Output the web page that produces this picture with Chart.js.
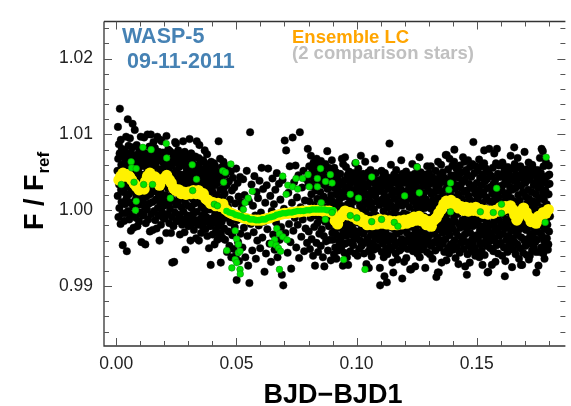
<!DOCTYPE html>
<html lang="en">
<head>
  <meta charset="UTF-8">
  <title>WASP-5 - Ensemble LC</title>
  <script src="https://cdn.jsdelivr.net/npm/chart.js"></script>
  <style>
    html, body { margin: 0; padding: 0; background: #fff; }
    #wrap { width: 571px; height: 406px; }
  </style>
</head>
<body>
<div id="wrap"><canvas id="lc" width="571" height="406"></canvas></div>
<script>
// axes
const xRange = [-0.0051, 0.1869];
const yRange = [0.9821, 1.0249];
const xTicks = [0.00, 0.05, 0.10, 0.15];
const yTicks = [0.99, 1.00, 1.01, 1.02];
const xMinorTicks = [0.01, 0.02, 0.03, 0.04, 0.06, 0.07, 0.08, 0.09, 0.11, 0.12, 0.13, 0.14, 0.16, 0.17, 0.18];
const yMinorTicks = [0.984, 0.986, 0.988, 0.992, 0.994, 0.996, 0.998, 1.002, 1.004, 1.006, 1.008, 1.012, 1.014, 1.016, 1.018, 1.022, 1.024];

// target star, black points [BJD-BJD1, F/Fref]
const blackA = [
[0.0005,1.0052],[0.0006,1.0019],[0.0007,1.0110],[0.0008,1.0068],[0.0009,0.9991],[0.0011,1.0087],[0.0012,1.0034],[0.0013,1.0003],[0.0014,1.0075],[0.0015,1.0134],
[0.0016,1.0046],[0.0018,0.9982],[0.0019,1.0093],[0.0020,1.0027],[0.0021,1.0060],[0.0022,1.0011],[0.0023,1.0081],[0.0025,1.0040],[0.0026,0.9996],[0.0027,0.9954],
[0.0028,1.0071],[0.0029,1.0024],[0.0030,1.0078],[0.0032,1.0056],[0.0033,0.9986],[0.0034,1.0038],[0.0035,1.0079],[0.0036,1.0008],[0.0037,1.0064],[0.0039,1.0030],
[0.0040,0.9996],[0.0041,1.0097],[0.0042,1.0049],[0.0043,1.0016],[0.0044,0.9946],[0.0046,1.0072],[0.0047,1.0033],[0.0048,1.0120],[0.0049,0.9999],[0.0050,1.0058],
[0.0051,1.0085],[0.0053,1.0021],[0.0054,0.9988],[0.0055,1.0066],[0.0056,1.0043],[0.0057,1.0095],[0.0058,1.0010],[0.0060,1.0053],[0.0061,0.9973],[0.0062,1.0076],
[0.0063,1.0028],[0.0064,1.0062],[0.0065,0.9994],[0.0067,1.0037],[0.0068,1.0114],[0.0069,1.0083],[0.0070,1.0005],[0.0071,1.0047],[0.0072,0.9977],[0.0074,1.0069],
[0.0075,1.0025],[0.0076,1.0071],[0.0077,1.0106],[0.0078,1.0013],[0.0079,1.0057],
[0.0081,1.0044],[0.0082,0.9990],[0.0083,1.0072],[0.0084,1.0019],[0.0085,1.0086],[0.0086,1.0051],[0.0088,0.9979],[0.0089,1.0063],[0.0090,1.0031],[0.0091,1.0074],
[0.0092,1.0007],[0.0093,1.0055],[0.0095,0.9985],[0.0096,1.0078],[0.0097,1.0039],[0.0098,1.0015],[0.0099,1.0068],[0.0100,0.9997],[0.0102,1.0097],[0.0103,1.0047],
[0.0104,1.0023],[0.0105,0.9958],[0.0106,1.0060],[0.0107,1.0035],[0.0109,1.0081],[0.0110,0.9993],[0.0111,1.0012],[0.0112,1.0070],[0.0113,1.0042],[0.0114,0.9994],
[0.0116,1.0096],[0.0117,1.0029],[0.0118,1.0058],[0.0119,1.0004],[0.0120,1.0075],[0.0121,1.0040],[0.0123,0.9983],[0.0124,1.0066],[0.0125,1.0018],[0.0126,1.0067],
[0.0127,1.0049],[0.0128,1.0001],[0.0130,1.0100],[0.0131,1.0026],[0.0132,1.0061],[0.0133,0.9988],[0.0134,1.0073],[0.0135,1.0036],[0.0137,1.0009],[0.0138,1.0084],
[0.0139,1.0053],[0.0140,0.9972],[0.0141,1.0067],[0.0142,1.0021],[0.0144,1.0100],[0.0145,1.0045],[0.0146,0.9995],[0.0147,1.0064],[0.0148,1.0032],[0.0149,1.0079],
[0.0151,1.0011],[0.0152,0.9974],[0.0153,1.0056],[0.0154,1.0025],[0.0155,1.0090],[0.0156,1.0048],[0.0158,0.9999],[0.0159,1.0070],
[0.0160,1.0038],[0.0161,1.0082],[0.0162,0.9987],[0.0163,1.0059],[0.0165,1.0014],[0.0166,1.0073],[0.0167,1.0030],[0.0168,0.9976],[0.0169,1.0068],[0.0170,1.0046],
[0.0171,1.0097],[0.0173,1.0003],[0.0174,1.0065],[0.0175,1.0022],[0.0176,0.9993],[0.0177,1.0077],[0.0179,1.0041],[0.0180,0.9960],[0.0181,1.0054],[0.0182,1.0010],
[0.0183,1.0093],[0.0184,1.0027],[0.0186,0.9981],[0.0187,1.0068],[0.0188,1.0035],[0.0189,1.0091],[0.0190,0.9998],[0.0191,1.0050],[0.0193,1.0017],[0.0194,1.0076],
[0.0195,0.9990],[0.0196,1.0043],[0.0197,1.0062],[0.0198,1.0006],[0.0200,1.0063],[0.0201,1.0033],[0.0202,0.9989],[0.0203,1.0057],[0.0204,1.0020],[0.0205,1.0071],
[0.0207,1.0040],[0.0208,0.9970],[0.0209,1.0098],[0.0210,1.0012],[0.0211,1.0048],[0.0212,1.0066],[0.0214,0.9995],[0.0215,1.0029],[0.0216,1.0080],[0.0217,1.0008],
[0.0218,1.0052],
[0.0219,1.0061],[0.0221,0.9983],[0.0222,1.0036],[0.0223,1.0078],[0.0224,1.0002],[0.0225,1.0049],[0.0226,1.0019],[0.0228,0.9970],[0.0229,1.0064],[0.0230,1.0031],
[0.0231,1.0058],[0.0232,0.9991],[0.0233,0.9931],[0.0235,1.0069],[0.0236,1.0013],[0.0237,1.0045],[0.0238,0.9979],[0.0239,1.0075],[0.0241,0.9932],[0.0242,1.0026],
[0.0243,1.0063],[0.0244,0.9997],[0.0245,1.0090],[0.0246,1.0039],[0.0248,1.0007],[0.0249,1.0088],[0.0250,1.0052],[0.0251,0.9986],[0.0252,1.0023],[0.0253,1.0070],
[0.0255,0.9986],[0.0256,1.0041],[0.0257,1.0011],[0.0258,1.0079],[0.0259,1.0034],[0.0260,0.9994],[0.0262,1.0057],[0.0263,1.0016],[0.0264,1.0065],[0.0265,0.9968],
[0.0266,1.0047],[0.0267,1.0028],[0.0269,1.0066],[0.0270,0.9989],[0.0271,1.0074],[0.0272,1.0004],[0.0273,1.0037],[0.0274,0.9981],[0.0276,1.0060],[0.0277,1.0020],
[0.0278,1.0091],[0.0279,1.0043],
[0.0280,0.9998],[0.0281,1.0064],[0.0283,1.0029],[0.0284,0.9971],[0.0285,1.0077],[0.0286,1.0012],[0.0287,1.0048],[0.0288,0.9986],[0.0290,1.0069],[0.0291,1.0035],
[0.0292,0.9983],[0.0293,1.0055],[0.0294,1.0018],[0.0295,1.0060],[0.0297,0.9993],[0.0298,1.0041],[0.0299,1.0006],[0.0300,1.0072],[0.0301,0.9979],[0.0302,1.0051],
[0.0304,1.0024],[0.0305,1.0094],[0.0306,0.9989],[0.0307,1.0061],[0.0308,1.0032],[0.0309,0.9960],[0.0311,1.0045],[0.0312,1.0075],[0.0313,1.0003],[0.0314,1.0038],
[0.0315,0.9982],[0.0316,1.0067],[0.0318,1.0015],[0.0319,1.0053],[0.0320,0.9995],[0.0321,1.0059],[0.0322,1.0027],[0.0323,0.9974],[0.0325,1.0060],[0.0326,1.0009],
[0.0327,1.0043],[0.0328,0.9987],[0.0329,1.0071],[0.0330,1.0021],[0.0332,0.9963],[0.0333,1.0056],[0.0334,1.0034],[0.0335,1.0091],[0.0336,0.9998],[0.0337,1.0047],
[0.0339,1.0013],
[0.0340,1.0058],[0.0341,0.9981],[0.0342,1.0032],[0.0343,1.0069],[0.0344,0.9960],[0.0346,1.0086],[0.0347,1.0010],[0.0348,1.0044],[0.0349,0.9988],[0.0350,1.0063],
[0.0351,1.0022],[0.0353,0.9970],[0.0354,1.0051],[0.0355,1.0004],[0.0356,1.0053],[0.0357,1.0027],[0.0358,0.9993],[0.0360,1.0040],[0.0361,0.9978],[0.0362,1.0066],
[0.0363,1.0015],[0.0364,1.0054],[0.0365,0.9984],[0.0367,1.0035],[0.0368,1.0079],[0.0369,0.9999],[0.0370,1.0047],[0.0371,0.9975],[0.0372,1.0020],[0.0374,1.0061],
[0.0375,0.9991],[0.0376,1.0038],[0.0377,1.0007],[0.0378,1.0074],[0.0379,0.9966],[0.0381,1.0029],[0.0382,1.0052],[0.0383,0.9986],[0.0384,1.0017],[0.0385,1.0048],
[0.0386,0.9950],[0.0388,1.0043],[0.0389,1.0001],[0.0390,1.0057],[0.0391,0.9979],[0.0392,1.0033],[0.0393,0.9928],[0.0395,1.0064],[0.0396,1.0012],[0.0397,0.9989],
[0.0398,1.0046],
[0.0400,1.0025],[0.0401,0.9968],[0.0402,1.0054],[0.0403,1.0003],[0.0404,1.0040],[0.0405,0.9983],[0.0407,1.0062],[0.0408,1.0015],[0.0409,0.9955],[0.0410,1.0033],
[0.0411,0.9994],[0.0412,1.0058],[0.0414,1.0008],[0.0415,0.9974],[0.0416,1.0046],[0.0417,1.0020],[0.0418,0.9987],[0.0419,1.0045],[0.0421,0.9961],[0.0422,1.0036],
[0.0423,1.0001],[0.0424,1.0050],[0.0425,0.9979],[0.0426,1.0091],[0.0428,1.0012],[0.0429,0.9968],[0.0430,1.0043],[0.0431,0.9992],[0.0432,1.0068],[0.0433,1.0027],
[0.0435,0.9931],[0.0436,0.9970],[0.0437,1.0048],[0.0438,1.0006],[0.0439,0.9985],[0.0440,1.0057],[0.0442,1.0018],[0.0443,0.9963],[0.0444,1.0038],[0.0445,0.9997],
[0.0446,1.0064],[0.0447,1.0029],[0.0449,0.9976],
[0.0121,0.9955],[0.0288,0.9948]
];
const blackB = [
[0.0451,1.0022],[0.0453,0.9961],[0.0455,1.0047],[0.0457,0.9990],[0.0459,1.0033],[0.0461,0.9945],[0.0463,1.0058],[0.0465,1.0005],[0.0467,0.9972],[0.0469,1.0038],
[0.0471,0.9953],[0.0473,1.0014],[0.0475,0.9984],[0.0477,1.0051],[0.0479,0.9938],[0.0481,1.0026],[0.0483,0.9967],[0.0485,1.0043],[0.0487,0.9996],[0.0489,0.9949],
[0.0491,1.0030],[0.0493,0.9978],[0.0495,1.0009],[0.0497,0.9940],[0.0499,1.0055],[0.0501,0.9908],[0.0503,0.9987],[0.0505,1.0036],[0.0507,0.9958],[0.0509,1.0018],
[0.0511,0.9933],[0.0513,0.9993],[0.0515,1.0044],[0.0517,0.9969],[0.0519,1.0011],
[0.0522,1.0003],[0.0525,0.9951],[0.0528,1.0041],[0.0531,0.9977],[0.0534,1.0020],[0.0537,0.9938],[0.0540,0.9989],[0.0543,1.0052],[0.0546,0.9966],[0.0549,0.9927],
[0.0552,1.0012],[0.0554,0.9904],[0.0557,1.0103],[0.0560,0.9982],[0.0563,1.0034],[0.0566,0.9947],[0.0569,1.0006],[0.0572,0.9971],[0.0575,1.0045],[0.0578,0.9993],
[0.0581,0.9936],[0.0584,1.0024],[0.0587,0.9960],[0.0590,1.0016],[0.0593,0.9980],[0.0596,1.0039],[0.0599,0.9950],[0.0602,0.9997],[0.0605,1.0056],[0.0608,0.9964],
[0.0611,1.0028],[0.0614,0.9985],[0.0617,0.9919],[0.0620,1.0010],[0.0623,0.9943],[0.0626,1.0033],[0.0629,0.9975],[0.0632,1.0055],[0.0635,0.9991],[0.0638,0.9956],
[0.0641,1.0019],[0.0644,0.9932],[0.0647,0.9999],[0.0650,1.0042],[0.0653,0.9968],[0.0656,1.0008],[0.0659,0.9948],[0.0662,1.0027],[0.0665,0.9984],[0.0668,1.0049],
[0.0671,0.9938],[0.0674,0.9995],[0.0677,1.0035],[0.0680,0.9961],[0.0683,1.0014],[0.0686,0.9978],[0.0689,0.9915],[0.0692,1.0040],[0.0695,0.9901],[0.0698,1.0002],
[0.0701,1.0092],[0.0704,0.9970],[0.0707,1.0079],[0.0710,0.9996],[0.0713,0.9944],[0.0716,1.0023],[0.0719,0.9982],[0.0722,1.0058],[0.0725,0.9958],[0.0728,0.9923],
[0.0731,1.0010],[0.0734,1.0096],[0.0737,0.9973],[0.0740,1.0037],[0.0743,0.9990],[0.0746,1.0059],[0.0749,0.9951],[0.0752,1.0017],[0.0755,0.9981],[0.0758,1.0046],
[0.0761,0.9937],[0.0764,1.0103],[0.0767,1.0004],[0.0770,0.9965],[0.0773,1.0030],[0.0776,0.9988],[0.0779,1.0052],[0.0782,0.9946],[0.0785,1.0013],[0.0788,0.9976],
[0.0791,1.0041],[0.0794,0.9957],[0.0797,1.0081],
[0.0800,1.0035],[0.0801,0.9972],[0.0803,1.0058],[0.0804,1.0012],[0.0806,0.9949],[0.0807,1.0044],[0.0809,0.9990],[0.0810,1.0072],[0.0812,1.0021],[0.0813,0.9962],
[0.0815,1.0050],[0.0816,0.9998],[0.0818,1.0031],[0.0819,0.9940],[0.0821,1.0063],[0.0822,1.0007],[0.0824,0.9978],[0.0825,1.0040],[0.0827,0.9927],[0.0828,1.0054],
[0.0830,0.9993],[0.0831,1.0026],[0.0833,0.9957],[0.0834,1.0068],[0.0836,1.0015],[0.0837,0.9983],[0.0839,1.0047],[0.0840,0.9945],[0.0842,1.0002],[0.0843,1.0059],
[0.0845,0.9969],[0.0846,1.0036],[0.0848,0.9988],[0.0849,1.0024],[0.0851,0.9953],[0.0852,1.0065],[0.0854,1.0010],[0.0855,0.9975],[0.0857,1.0043],[0.0858,0.9999],
[0.0860,0.9938],[0.0861,1.0052],[0.0863,1.0018],[0.0864,0.9966],[0.0866,0.9926],[0.0867,1.0033],[0.0869,0.9985],[0.0870,1.0061],[0.0872,1.0004],[0.0873,0.9959],
[0.0875,1.0045],[0.0876,0.9992],[0.0878,1.0078],[0.0879,1.0028],[0.0881,0.9947],[0.0882,1.0013],[0.0884,1.0056],[0.0885,0.9979],[0.0887,1.0038],[0.0888,0.9961],
[0.0890,1.0006],[0.0891,1.0049],[0.0893,0.9934],[0.0894,1.0020],[0.0896,0.9987],[0.0897,1.0066],[0.0899,0.9970]
];
const blackC = [
[0.0900,1.0012],[0.0901,0.9961],[0.0902,1.0045],[0.0903,0.9988],[0.0904,1.0030],[0.0906,0.9942],[0.0907,1.0056],[0.0908,1.0003],[0.0909,0.9973],[0.0910,1.0038],
[0.0911,0.9951],[0.0913,1.0021],[0.0914,0.9994],[0.0915,1.0050],[0.0916,0.9936],[0.0917,1.0009],[0.0918,0.9967],[0.0920,1.0042],[0.0921,0.9982],[0.0922,1.0026],
[0.0923,0.9947],[0.0924,1.0038],[0.0925,0.9999],[0.0927,0.9959],[0.0928,1.0033],[0.0929,0.9977],[0.0930,1.0015],[0.0931,0.9958],[0.0932,1.0048],[0.0934,0.9990],
[0.0935,0.9964],[0.0936,1.0024],[0.0937,0.9952],[0.0938,1.0006],[0.0939,1.0068],[0.0941,0.9985],[0.0942,1.0036],[0.0943,0.9927],[0.0944,1.0061],[0.0945,0.9970],
[0.0946,1.0018],[0.0948,0.9996],[0.0949,0.9944],[0.0950,1.0040],[0.0951,0.9979],[0.0952,1.0028],[0.0953,0.9956],[0.0955,1.0001],[0.0956,1.0057],[0.0957,0.9966],
[0.0958,1.0023],[0.0959,0.9987],[0.0960,0.9938],[0.0962,1.0046],[0.0963,1.0008],[0.0964,0.9974],[0.0965,0.9928],[0.0966,1.0031],[0.0967,0.9992],[0.0969,1.0051],
[0.0970,0.9958],[0.0971,1.0016],[0.0972,0.9981],[0.0973,1.0035],[0.0974,0.9946],[0.0976,1.0004],[0.0977,1.0039],[0.0978,0.9968],[0.0979,1.0027],[0.0980,0.9993],
[0.0981,0.9957],[0.0983,1.0043],[0.0984,0.9976],[0.0985,1.0011],[0.0986,0.9954],[0.0987,1.0049],[0.0988,0.9986],[0.0990,1.0022],[0.0991,0.9962],[0.0992,1.0037],
[0.0993,0.9998],[0.0994,0.9943],[0.0995,1.0062],[0.0997,0.9972],[0.0998,1.0019],[0.0999,0.9989],
[0.1000,1.0029],[0.1001,0.9965],[0.1002,1.0047],[0.1003,0.9984],[0.1004,0.9940],[0.1006,1.0013],[0.1007,1.0055],[0.1008,0.9972],[0.1009,1.0033],[0.1010,0.9996],
[0.1011,0.9949],[0.1013,1.0041],[0.1014,1.0006],[0.1015,0.9960],[0.1016,1.0024],[0.1017,0.9987],[0.1018,1.0032],[0.1020,0.9953],[0.1021,1.0018],[0.1022,0.9978],
[0.1023,1.0039],[0.1024,0.9955],[0.1025,1.0002],[0.1027,1.0048],[0.1028,0.9969],[0.1029,1.0026],[0.1030,0.9991],[0.1031,0.9943],[0.1032,1.0035],[0.1034,0.9981],
[0.1035,1.0011],[0.1036,1.0064],[0.1037,0.9958],[0.1038,1.0021],[0.1039,0.9998],[0.1041,0.9929],[0.1042,1.0044],[0.1043,0.9975],[0.1044,1.0008],[0.1045,0.9962],
[0.1046,1.0031],[0.1048,0.9989],[0.1049,1.0050],[0.1050,0.9946],[0.1051,0.9924],[0.1052,1.0015],[0.1053,0.9979],[0.1055,1.0037],[0.1056,0.9953],[0.1057,1.0004],
[0.1058,1.0053],[0.1059,0.9967],[0.1060,1.0023],[0.1062,0.9985],[0.1063,0.9939],[0.1064,1.0042],[0.1065,0.9994],[0.1066,1.0010],[0.1067,0.9957],[0.1069,1.0046],
[0.1070,0.9973],[0.1071,1.0027],[0.1072,0.9948],[0.1073,1.0001],[0.1074,1.0036],[0.1076,1.0068],[0.1077,0.9982],[0.1078,1.0019],[0.1079,0.9963],[0.1080,1.0049],
[0.1081,0.9993],[0.1083,0.9952],[0.1084,1.0030],[0.1085,0.9970],[0.1086,1.0012],[0.1087,0.9950],[0.1088,1.0035],[0.1090,0.9986],[0.1091,1.0025],[0.1092,0.9961],
[0.1093,1.0040],[0.1094,0.9978],[0.1095,1.0007],[0.1097,0.9924],[0.1098,0.9901],[0.1099,1.0034],
[0.1100,0.9968],[0.1101,1.0037],[0.1102,0.9990],[0.1104,1.0052],[0.1105,0.9945],[0.1106,1.0014],[0.1107,0.9976],[0.1108,1.0031],[0.1109,0.9956],[0.1111,1.0045],
[0.1112,0.9999],[0.1113,0.9938],[0.1114,1.0022],[0.1115,0.9983],[0.1116,0.9913],[0.1118,1.0049],[0.1119,0.9964],[0.1120,1.0008],[0.1121,0.9971],[0.1122,1.0039],
[0.1123,0.9950],[0.1125,1.0017],[0.1126,0.9992],[0.1127,1.0034],[0.1128,0.9942],[0.1129,1.0003],[0.1130,0.9980],[0.1132,1.0028],[0.1133,0.9959],[0.1134,1.0043],
[0.1135,0.9987],[0.1136,0.9951],[0.1137,1.0088],[0.1139,1.0011],[0.1140,0.9966],[0.1141,1.0034],[0.1142,0.9995],[0.1143,1.0060],[0.1144,0.9948],[0.1146,1.0020],
[0.1147,0.9977],[0.1148,1.0005],[0.1149,0.9931],[0.1150,1.0041],[0.1151,0.9985],[0.1153,0.9918],[0.1154,1.0026],[0.1155,0.9961],[0.1156,1.0047],[0.1157,0.9997],
[0.1158,0.9953],[0.1160,1.0015],[0.1161,0.9974],[0.1162,1.0036],[0.1163,0.9943],[0.1164,1.0002],[0.1165,1.0053],[0.1167,0.9969],[0.1168,1.0024],[0.1169,0.9988],
[0.1170,0.9935],[0.1171,1.0044],[0.1172,0.9979],[0.1174,1.0010],[0.1175,0.9957],[0.1176,1.0032],[0.1177,0.9993],[0.1178,1.0035],[0.1179,0.9947],[0.1181,1.0019],
[0.1182,0.9972],[0.1183,1.0040],[0.1184,0.9984],[0.1185,0.9949],[0.1186,1.0027],[0.1188,0.9962],[0.1189,1.0006],[0.1190,0.9910],[0.1191,1.0048],[0.1192,0.9981],
[0.1193,1.0013],[0.1195,0.9952],[0.1196,1.0036],[0.1197,0.9996],[0.1198,0.9932],[0.1199,1.0021],
[0.1200,0.9975],[0.1202,1.0043],[0.1203,0.9958],[0.1204,1.0009],[0.1205,0.9989],[0.1206,1.0051],[0.1207,0.9937],[0.1209,1.0025],[0.1210,0.9970],[0.1211,1.0038],
[0.1212,0.9994],[0.1213,0.9949],[0.1214,1.0016],[0.1216,1.0036],[0.1217,0.9963],[0.1218,1.0030],[0.1219,0.9982],[0.1220,1.0004],[0.1221,0.9959],[0.1223,0.9922],
[0.1224,1.0046],[0.1225,0.9978],[0.1226,1.0021],[0.1227,0.9922],[0.1228,0.9955],[0.1230,1.0035],[0.1231,0.9991],[0.1232,1.0061],[0.1233,0.9967],[0.1234,1.0012],
[0.1235,0.9946],[0.1237,1.0040],[0.1238,0.9985],[0.1239,1.0027],[0.1240,0.9960],[0.1241,0.9998],[0.1242,1.0048],[0.1244,0.9926],[0.1245,1.0019],[0.1246,0.9973],
[0.1247,1.0033],[0.1248,0.9952],[0.1249,1.0006],[0.1251,1.0057],[0.1252,0.9980],[0.1253,0.9943],[0.1254,1.0024],[0.1255,0.9965],[0.1256,1.0045],[0.1258,0.9996],
[0.1259,1.0013],[0.1260,0.9956],[0.1261,1.0039],[0.1262,0.9987],[0.1263,0.9938],[0.1265,1.0029],[0.1266,0.9971],[0.1267,1.0050],[0.1268,1.0001],[0.1269,0.9948],
[0.1270,1.0017],[0.1272,0.9983],[0.1273,1.0042],[0.1274,0.9962],[0.1275,1.0008],[0.1276,0.9950],[0.1277,1.0035],[0.1279,0.9976],[0.1280,1.0022],[0.1281,0.9992],
[0.1282,1.0036],[0.1283,0.9954],[0.1284,1.0003],[0.1286,0.9924],[0.1287,1.0047],[0.1288,0.9968],[0.1289,1.0014],[0.1290,0.9986],[0.1291,1.0031],[0.1293,0.9945],
[0.1294,1.0058],[0.1295,0.9979],[0.1296,1.0010],[0.1297,0.9959],[0.1298,1.0041],
[0.1300,1.0026],[0.1301,0.9966],[0.1302,1.0049],[0.1303,0.9990],[0.1304,1.0008],[0.1305,0.9942],[0.1307,1.0035],[0.1308,0.9977],[0.1309,1.0058],[0.1310,1.0002],
[0.1311,0.9953],[0.1312,1.0021],[0.1314,0.9984],[0.1315,1.0044],[0.1316,0.9936],[0.1317,1.0013],[0.1318,0.9969],[0.1319,1.0037],[0.1321,0.9995],[0.1322,1.0041],
[0.1323,0.9958],[0.1324,1.0024],[0.1325,0.9981],[0.1326,1.0005],[0.1328,0.9947],[0.1329,1.0052],[0.1330,0.9973],[0.1331,1.0030],[0.1332,0.9992],[0.1333,0.9957],
[0.1335,1.0041],[0.1336,0.9964],[0.1337,1.0016],[0.1338,0.9918],[0.1339,1.0064],[0.1340,0.9986],[0.1342,0.9918],[0.1343,1.0033],[0.1344,0.9975],[0.1345,1.0011],
[0.1346,0.9951],[0.1347,1.0047],[0.1349,0.9997],[0.1350,1.0025],[0.1351,0.9960],[0.1352,1.0060],[0.1353,0.9982],[0.1354,0.9931],[0.1356,1.0038],[0.1357,1.0003],
[0.1358,0.9970],[0.1359,1.0050],[0.1360,0.9956],[0.1361,1.0019],[0.1363,0.9988],[0.1364,1.0043],[0.1365,0.9945],[0.1366,1.0010],[0.1367,0.9978],[0.1368,1.0037],
[0.1370,0.9962],[0.1371,1.0073],[0.1372,1.0028],[0.1373,0.9993],[0.1374,0.9934],[0.1375,1.0073],[0.1377,1.0040],[0.1378,0.9972],[0.1379,1.0015],[0.1380,0.9950],
[0.1381,1.0054],[0.1382,0.9985],[0.1384,1.0032],[0.1385,0.9943],[0.1386,1.0007],[0.1387,1.0068],[0.1388,0.9967],[0.1389,1.0022],[0.1391,0.9998],[0.1392,0.9955],
[0.1393,1.0046],[0.1394,0.9980],[0.1395,1.0035],[0.1396,0.9955],[0.1398,1.0012],[0.1399,1.0059],
[0.1400,0.9976],[0.1401,1.0039],[0.1402,0.9948],[0.1403,1.0017],[0.1405,0.9991],[0.1406,1.0064],[0.1407,0.9960],[0.1408,1.0028],[0.1409,0.9985],[0.1410,1.0046],
[0.1412,0.9937],[0.1413,1.0004],[0.1414,0.9971],[0.1415,1.0055],[0.1416,1.0012],[0.1417,0.9952],[0.1419,1.0033],[0.1420,0.9995],[0.1421,1.0048],[0.1422,0.9966],
[0.1423,1.0021],[0.1424,0.9929],[0.1426,1.0043],[0.1427,0.9982],[0.1428,1.0009],[0.1429,0.9944],[0.1430,1.0059],[0.1431,0.9977],[0.1433,1.0030],[0.1434,0.9957],
[0.1435,0.9999],[0.1436,1.0050],[0.1437,0.9958],[0.1438,1.0015],[0.1440,0.9987],[0.1441,1.0037],[0.1442,0.9963],[0.1443,1.0070],[0.1444,1.0006],[0.1445,0.9949],
[0.1447,1.0024],[0.1448,0.9980],[0.1449,1.0064],[0.1450,0.9968],[0.1451,1.0041],[0.1452,0.9926],[0.1454,1.0011],[0.1455,0.9993],[0.1456,1.0053],[0.1457,0.9958],
[0.1458,1.0026],[0.1459,0.9975],[0.1461,1.0047],[0.1462,0.9942],[0.1463,1.0002],[0.1464,1.0066],[0.1465,0.9984],[0.1466,1.0019],[0.1468,0.9953],[0.1469,1.0035],
[0.1470,0.9996],[0.1471,0.9931],[0.1472,1.0057],[0.1473,0.9970],[0.1475,1.0013],[0.1476,0.9946],[0.1477,1.0044],[0.1478,0.9988],[0.1479,1.0029],[0.1480,0.9961],
[0.1482,1.0061],[0.1483,0.9979],[0.1484,1.0008],[0.1485,0.9957],[0.1486,1.0090],[0.1487,1.0032],[0.1489,0.9965],[0.1490,1.0049],[0.1491,0.9990],[0.1492,0.9950],
[0.1493,1.0022],[0.1494,0.9940],[0.1496,1.0058],[0.1497,0.9981],[0.1498,1.0010],[0.1499,0.9967],
[0.1500,1.0036],[0.1501,0.9944],[0.1503,1.0015],[0.1504,0.9983],[0.1505,1.0052],[0.1506,0.9962],[0.1507,1.0027],[0.1508,0.9996],[0.1510,1.0067],[0.1511,0.9938],
[0.1512,1.0007],[0.1513,0.9974],[0.1514,1.0043],[0.1515,0.9955],[0.1517,1.0020],[0.1518,0.9989],[0.1519,1.0058],[0.1520,0.9947],[0.1521,1.0033],[0.1522,0.9968],
[0.1524,0.9928],[0.1525,1.0010],[0.1526,1.0047],[0.1527,0.9979],[0.1528,1.0024],[0.1529,0.9957],[0.1531,1.0062],[0.1532,0.9993],[0.1533,0.9941],[0.1534,1.0038],
[0.1535,0.9972],[0.1536,1.0003],[0.1538,1.0055],[0.1539,0.9964],[0.1540,1.0017],[0.1541,0.9986],[0.1542,0.9953],[0.1543,1.0041],[0.1545,0.9918],[0.1546,1.0029],
[0.1547,0.9976],[0.1548,0.9919],[0.1549,1.0050],[0.1550,0.9998],[0.1552,1.0081],[0.1553,0.9959],[0.1554,1.0012],[0.1555,0.9981],[0.1556,1.0046],[0.1557,0.9950],
[0.1559,1.0031],[0.1560,0.9970],[0.1561,1.0045],[0.1562,0.9993],[0.1563,0.9928],[0.1564,1.0022],[0.1566,0.9965],[0.1567,1.0056],[0.1568,1.0005],[0.1569,0.9946],
[0.1570,1.0035],[0.1571,0.9984],[0.1573,1.0075],[0.1574,0.9960],[0.1575,1.0014],[0.1576,0.9977],[0.1577,1.0040],[0.1578,0.9932],[0.1580,1.0062],[0.1581,0.9991],
[0.1582,1.0025],[0.1583,0.9954],[0.1584,1.0081],[0.1585,1.0009],[0.1587,0.9972],[0.1588,1.0048],[0.1589,0.9943],[0.1590,1.0018],[0.1591,0.9987],[0.1592,1.0059],
[0.1594,0.9966],[0.1595,1.0032],[0.1596,0.9999],[0.1597,0.9956],[0.1598,1.0044],[0.1599,0.9979],
[0.1600,1.0011],[0.1601,0.9957],[0.1602,1.0046],[0.1603,0.9982],[0.1605,1.0026],[0.1606,0.9940],[0.1607,1.0063],[0.1608,0.9995],[0.1609,1.0059],[0.1610,0.9969],
[0.1612,1.0034],[0.1613,0.9951],[0.1614,1.0004],[0.1615,1.0052],[0.1616,0.9976],[0.1617,1.0019],[0.1619,0.9933],[0.1620,1.0041],[0.1621,0.9988],[0.1622,1.0049],
[0.1623,0.9961],[0.1624,1.0014],[0.1626,0.9980],[0.1627,1.0037],[0.1628,0.9945],[0.1629,1.0057],[0.1630,0.9998],[0.1631,1.0023],[0.1633,0.9966],[0.1634,1.0049],
[0.1635,0.9955],[0.1636,1.0008],[0.1637,0.9985],[0.1638,1.0031],[0.1640,0.9952],[0.1641,1.0072],[0.1642,0.9973],[0.1643,1.0016],[0.1644,0.9992],[0.1645,1.0044],
[0.1647,0.9925],[0.1648,1.0027],[0.1649,0.9963],[0.1650,1.0055],[0.1651,1.0001],[0.1652,0.9948],[0.1654,1.0039],[0.1655,0.9978],[0.1656,1.0012],[0.1657,0.9958],
[0.1658,1.0061],[0.1659,0.9990],[0.1661,1.0029],[0.1662,0.9942],[0.1663,1.0047],[0.1664,0.9971],[0.1665,1.0006],[0.1666,0.9983],[0.1668,1.0035],[0.1669,0.9955],
[0.1670,1.0069],[0.1671,1.0056],[0.1672,0.9967],[0.1673,1.0020],[0.1675,0.9993],[0.1676,0.9936],[0.1677,1.0043],[0.1678,0.9975],[0.1679,1.0013],[0.1680,0.9950],
[0.1682,1.0058],[0.1683,0.9986],[0.1684,0.9928],[0.1685,1.0032],[0.1686,0.9964],[0.1687,1.0003],[0.1689,0.9928],[0.1690,1.0050],[0.1691,0.9980],[0.1692,1.0024],
[0.1693,0.9944],[0.1694,1.0047],[0.1696,0.9997],[0.1697,1.0038],[0.1698,0.9960],[0.1699,1.0077],
[0.1701,0.9985],[0.1702,1.0036],[0.1703,0.9953],[0.1704,1.0018],[0.1705,0.9974],[0.1707,1.0054],[0.1708,0.9941],[0.1709,1.0009],[0.1710,0.9992],[0.1711,1.0045],
[0.1712,0.9962],[0.1714,1.0027],[0.1715,0.9978],[0.1716,1.0063],[0.1717,0.9935],[0.1718,1.0015],[0.1719,0.9987],[0.1721,0.9940],[0.1722,1.0040],[0.1723,0.9969],
[0.1724,1.0006],[0.1725,0.9956],[0.1726,1.0051],[0.1728,0.9995],[0.1729,1.0024],[0.1730,0.9947],[0.1731,1.0060],[0.1732,0.9981],[0.1733,1.0056],[0.1735,1.0012],
[0.1736,0.9964],[0.1737,1.0033],[0.1738,0.9951],[0.1739,1.0047],[0.1740,0.9976],[0.1742,1.0002],[0.1743,0.9958],[0.1744,1.0046],[0.1745,0.9990],[0.1746,1.0021],
[0.1747,0.9945],[0.1749,1.0038],[0.1750,0.9972],[0.1751,1.0010],[0.1752,0.9961],[0.1753,1.0053],[0.1754,0.9997],[0.1756,1.0029],[0.1757,0.9927],[0.1758,1.0044],
[0.1759,0.9983],[0.1760,1.0016],[0.1761,0.9945],[0.1763,1.0069],[0.1764,0.9970],[0.1765,1.0031],[0.1766,0.9989],[0.1767,1.0049],[0.1768,0.9951],[0.1770,1.0081],
[0.1771,1.0004],[0.1772,0.9966],[0.1773,1.0037],[0.1774,0.9979],[0.1775,1.0023],[0.1777,0.9943],[0.1778,1.0058],[0.1779,0.9993],[0.1780,1.0014],[0.1781,0.9959],
[0.1782,0.9936],[0.1784,1.0042],[0.1785,0.9975],[0.1786,1.0026],[0.1787,0.9950],[0.1788,1.0064],[0.1789,0.9988],[0.1791,1.0008],[0.1792,0.9963],[0.1793,1.0045],
[0.1794,0.9981],[0.1795,1.0034],[0.1796,0.9948],[0.1798,0.9955],[0.1799,1.0021],[0.1800,1.0059],[0.1801,0.9972],[0.1802,1.0047],[0.1803,1.0035],[0.1805,0.9992],
[0.0952,1.0070],[0.1018,1.0072],[0.1126,0.9905],[0.1186,1.0066],[0.1262,1.0070],[0.1332,0.9912],[0.1407,1.0080],[0.1459,0.9915],[0.1531,1.0079],[0.1617,0.9913],
[0.1656,1.0083],[0.1748,0.9918],[0.1775,1.0078]
];

// ensemble light curve, yellow
const yellowEnsemble = [
[0.0011,1.0040],[0.0019,1.0045],[0.0028,1.0049],[0.0038,1.0045],[0.0048,1.0047],[0.0056,1.0044],[0.0064,1.0040],[0.0075,1.0035],[0.0085,1.0031],[0.0095,1.0027],
[0.0106,1.0031],[0.0116,1.0028],[0.0122,1.0038],[0.0130,1.0045],[0.0140,1.0049],[0.0151,1.0044],[0.0161,1.0044],[0.0171,1.0037],[0.0180,1.0033],[0.0190,1.0040],
[0.0200,1.0042],[0.0210,1.0046],[0.0221,1.0040],[0.0229,1.0036],[0.0239,1.0029],[0.0249,1.0026],[0.0260,1.0027],[0.0270,1.0022],[0.0280,1.0024],[0.0290,1.0021],
[0.0301,1.0024],[0.0311,1.0022],[0.0321,1.0026],[0.0332,1.0022],[0.0342,1.0026],[0.0352,1.0021],[0.0362,1.0022],[0.0373,1.0015],[0.0383,1.0013],[0.0393,1.0009],
[0.0403,1.0010],[0.0414,1.0006],[0.0424,1.0009],[0.0434,1.0005],[0.0444,1.0008],[0.0455,1.0001],
[0.0467,0.9998],[0.0479,0.9996],[0.0492,0.9994],[0.0504,0.9993],[0.0516,0.9992],[0.0529,0.9990],[0.0541,0.9989],[0.0553,0.9988],[0.0565,0.9987],[0.0578,0.9987],
[0.0590,0.9987],[0.0603,0.9987],[0.0615,0.9988],[0.0627,0.9989],[0.0640,0.9990],[0.0652,0.9992],[0.0664,0.9993],[0.0676,0.9994],[0.0689,0.9995],[0.0701,0.9996],
[0.0714,0.9996],[0.0726,0.9997],[0.0738,0.9997],[0.0751,0.9998],[0.0763,0.9998],[0.0775,0.9999],[0.0788,0.9999],[0.0800,0.9999],[0.0812,1.0000],[0.0824,1.0000],
[0.0837,1.0000],[0.0849,1.0000],[0.0861,0.9999],[0.0874,0.9999],[0.0886,0.9999],[0.0898,0.9997],
[0.0911,0.9986],[0.0921,0.9982],[0.0931,0.9990],[0.0942,0.9995],[0.0952,0.9999],[0.0962,0.9994],[0.0972,0.9997],[0.0983,0.9992],[0.0993,0.9995],[0.1003,0.9988],
[0.1013,0.9991],[0.1024,0.9985],[0.1034,0.9987],[0.1044,0.9981],[0.1055,0.9985],[0.1065,0.9981],[0.1075,0.9986],[0.1085,0.9982],[0.1096,0.9988],[0.1106,0.9983],
[0.1116,0.9987],[0.1126,0.9982],[0.1137,0.9986],[0.1147,0.9981],[0.1157,0.9985],[0.1168,0.9981],[0.1178,0.9986],[0.1188,0.9982],[0.1198,0.9987],[0.1209,0.9983],
[0.1219,0.9988],[0.1229,0.9985],[0.1239,0.9991],[0.1250,0.9987],[0.1260,0.9992],[0.1270,0.9986],[0.1280,0.9988],[0.1291,0.9981],[0.1301,0.9985],[0.1311,0.9979],
[0.1322,0.9987],[0.1332,0.9990],[0.1342,0.9996],[0.1352,1.0001],[0.1363,1.0008],[0.1373,1.0012],[0.1383,1.0009],[0.1393,1.0013],[0.1404,1.0006],[0.1414,1.0009],
[0.1424,1.0003],[0.1435,1.0005],[0.1445,1.0000],[0.1455,1.0004],[0.1465,0.9999],[0.1476,1.0003],[0.1486,1.0000],[0.1496,1.0004],[0.1506,0.9999],[0.1517,1.0001],
[0.1527,0.9996],[0.1537,1.0000],[0.1547,0.9995],[0.1558,0.9999],[0.1568,0.9996],[0.1578,1.0000],[0.1589,0.9999],[0.1599,1.0004],[0.1609,1.0001],[0.1619,1.0005],
[0.1630,1.0003],[0.1640,1.0006],[0.1650,1.0001],[0.1658,0.9994],[0.1667,0.9987],[0.1675,0.9992],[0.1685,0.9999],[0.1695,1.0003],[0.1706,0.9997],[0.1716,0.9991],
[0.1726,0.9985],[0.1736,0.9988],[0.1747,0.9983],[0.1757,0.9992],[0.1767,0.9990],[0.1777,0.9997],[0.1788,0.9996],[0.1798,1.0001]
];

// green points: smooth run through the middle of the night
const greenLine = [
[0.0459,0.9999],[0.0471,0.9997],[0.0484,0.9996],[0.0496,0.9994],[0.0508,0.9993],[0.0521,0.9992],[0.0533,0.9990],[0.0545,0.9990],[0.0557,0.9988],[0.0570,0.9988],
[0.0582,0.9987],[0.0594,0.9987],[0.0607,0.9988],[0.0619,0.9988],[0.0631,0.9990],[0.0644,0.9991],[0.0656,0.9992],[0.0668,0.9994],[0.0681,0.9995],[0.0693,0.9996],
[0.0705,0.9996],[0.0717,0.9997],[0.0730,0.9997],[0.0742,0.9998],[0.0755,0.9999],[0.0767,0.9999],[0.0779,0.9999],[0.0792,1.0000],[0.0804,1.0000],[0.0816,1.0001],
[0.0829,1.0001],[0.0841,1.0001],[0.0853,1.0001],[0.0866,1.0001],[0.0878,1.0000],[0.0890,1.0000],[0.0903,1.0000]
];
// green points: scattered
const greenScatter = [
[0.0021,1.0034],[0.0062,1.0064],[0.0064,1.0056],[0.0074,1.0037],[0.0083,1.0055],[0.0083,1.0012],[0.0080,1.0000],[0.0111,1.0083],[0.0114,1.0034],[0.0145,1.0080],
[0.0151,1.0034],[0.0208,1.0088],[0.0210,1.0069],[0.0225,1.0016],[0.0316,1.0060],[0.0334,1.0041],[0.0318,1.0026],[0.0408,1.0008],[0.0421,1.0006],[0.0443,1.0052],
[0.0454,1.0050],[0.0477,1.0061],[0.0447,1.0037],[0.0536,1.0010],[0.0529,1.0001],[0.0549,1.0016],[0.0566,1.0025],
[0.0495,0.9973],[0.0501,0.9962],[0.0508,0.9955],[0.0460,0.9947],[0.0508,0.9944],[0.0495,0.9935],[0.0501,0.9931],[0.0481,0.9924],[0.0515,0.9922],[0.0516,0.9916],
[0.0515,0.9946],
[0.0668,0.9976],[0.0679,0.9969],[0.0693,0.9965],[0.0659,0.9961],[0.0645,0.9956],[0.0665,0.9954],[0.0675,0.9950],[0.0684,0.9946],[0.0711,0.9961],[0.0679,0.9922],
[0.0693,1.0045],[0.0714,1.0033],[0.0707,1.0021],[0.0748,1.0042],[0.0734,1.0031],[0.0755,1.0028],[0.0775,1.0042],[0.0798,1.0047],[0.0803,1.0031],[0.0837,1.0042],
[0.0837,1.0031],[0.0850,1.0055],[0.0871,1.0038],[0.0891,1.0047],[0.0898,1.0036],[0.0853,1.0010],[0.0870,0.9988],
[0.0974,1.0021],[0.0997,1.0063],[0.1008,1.0016],[0.1063,1.0044],[0.1200,1.0019],[0.1252,1.0057],[0.1261,1.0023],[0.0898,0.9997],[0.0974,0.9993],[0.1001,0.9990],
[0.1063,0.9985],[0.1104,0.9988],[0.1157,0.9984],[0.1172,0.9979],[0.0946,0.9935],[0.1035,0.9922],
[0.1384,1.0027],[0.1391,1.0036],[0.1391,0.9998],[0.1515,0.9998],[0.1569,0.9997],[0.1583,1.0029],[0.1603,1.0008],[0.1603,0.9996],[0.1789,1.0070],[0.1785,0.9984]
];

const toPts = arr => arr.map(([x, y]) => ({ x: x, y: y }));

const tickFont = { family: "'Liberation Sans', Arial, Helvetica, sans-serif", size: 17.5 };

// frame, inward ticks, titles and notes
const decorPlugin = {
  id: 'decor',
  afterDatasetsDraw(chart) {
    const { ctx, chartArea: a, scales: { x, y } } = chart;
    ctx.save();
    ctx.strokeStyle = '#333';
    ctx.lineWidth = 1.3;
    ctx.beginPath();
    ctx.moveTo(a.left, a.top); ctx.lineTo(a.left, a.bottom); ctx.lineTo(a.right, a.bottom);
    ctx.moveTo(a.left, a.top); ctx.lineTo(a.right, a.top);
    ctx.stroke();

    ctx.strokeStyle = '#555';
    ctx.lineWidth = 1;
    ctx.beginPath();
    const xt = (v, len) => {
      const px = Math.round(x.getPixelForValue(v)) + 0.5;
      ctx.moveTo(px, a.bottom); ctx.lineTo(px, a.bottom - len);
      ctx.moveTo(px, a.top); ctx.lineTo(px, a.top + len);
    };
    const yt = (v, len) => {
      const py = Math.round(y.getPixelForValue(v)) + 0.5;
      ctx.moveTo(a.left, py); ctx.lineTo(a.left + len, py);
      ctx.moveTo(a.right, py); ctx.lineTo(a.right - len, py);
    };
    xTicks.forEach(v => xt(v, 8));
    xMinorTicks.forEach(v => xt(v, 5));
    yTicks.forEach(v => yt(v, 8));
    yMinorTicks.forEach(v => yt(v, 5));
    ctx.stroke();

    // axis titles
    ctx.fillStyle = '#000';
    ctx.textBaseline = 'alphabetic';
    ctx.font = "bold 27px 'Liberation Sans', Arial, sans-serif";
    ctx.textAlign = 'center';
    ctx.fillText('BJD\u2212BJD1', 333, 403);

    ctx.save();
    ctx.translate(43, 230);
    ctx.rotate(-Math.PI / 2);
    ctx.textAlign = 'left';
    ctx.font = "bold 27px 'Liberation Sans', Arial, sans-serif";
    ctx.fillText('F / F', 0, 0);
    const w = ctx.measureText('F / F').width;
    ctx.font = "bold 17px 'Liberation Sans', Arial, sans-serif";
    ctx.fillText('ref', w + 1, 6);
    ctx.restore();

    // notes
    ctx.textAlign = 'left';
    ctx.font = "bold 21.5px 'Liberation Sans', Arial, sans-serif";
    ctx.fillStyle = '#4682b4';
    ctx.fillText('WASP-5', 122, 43);
    ctx.fillText('09-11-2011', 127, 68);
    ctx.font = "bold 18.5px 'Liberation Sans', Arial, sans-serif";
    ctx.fillStyle = '#ffa500';
    ctx.fillText('Ensemble LC', 292, 43);
    ctx.fillStyle = '#c0c0c0';
    ctx.fillText('(2 comparison stars)', 292, 59);
    ctx.restore();
  }
};

new Chart(document.getElementById('lc'), {
  type: 'scatter',
  data: {
    datasets: [
      {
        label: 'green',
        data: toPts(greenScatter),
        order: 1,
        pointRadius: 3.3,
        pointBackgroundColor: '#00e400',
        pointBorderColor: '#0b8f0b',
        pointBorderWidth: 0.6
      },
      {
        label: 'green run',
        data: toPts(greenLine),
        order: 2,
        pointRadius: 3.3,
        pointBackgroundColor: '#00e400',
        pointBorderColor: '#00e400',
        pointBorderWidth: 0
      },
      {
        label: 'Ensemble LC',
        data: toPts(yellowEnsemble),
        order: 3,
        pointRadius: 5.6,
        pointBackgroundColor: '#fff200',
        pointBorderColor: '#fff200',
        pointBorderWidth: 0
      },
      {
        label: 'WASP-5',
        data: toPts(blackA.concat(blackB, blackC)),
        order: 4,
        pointRadius: 3.8,
        pointBackgroundColor: '#000',
        pointBorderColor: '#000',
        pointBorderWidth: 0.4
      }
    ]
  },
  options: {
    responsive: false,
    animation: false,
    events: [],
    layout: { padding: { top: 12, right: 0, left: 0, bottom: 0 } },
    plugins: { legend: { display: false }, tooltip: { enabled: false } },
    scales: {
      x: {
        type: 'linear',
        min: xRange[0],
        max: xRange[1],
        afterFit: s => { s.height = 60; },
        afterBuildTicks: s => { s.ticks = xTicks.map(v => ({ value: v })); },
        grid: { display: false, drawTicks: false },
        border: { display: false },
        ticks: { padding: 8, font: tickFont, color: '#222', autoSkip: false, maxRotation: 0,
                 callback: v => Number(v).toFixed(2) }
      },
      y: {
        type: 'linear',
        min: yRange[0],
        max: yRange[1],
        afterFit: s => { s.width = 104; },
        afterBuildTicks: s => { s.ticks = yTicks.map(v => ({ value: v })); },
        grid: { display: false, drawTicks: false },
        border: { display: false },
        ticks: { padding: 11, font: tickFont, color: '#222', autoSkip: false,
                 callback: v => Number(v).toFixed(2) }
      }
    }
  },
  plugins: [decorPlugin]
});
</script>
</body>
</html>
